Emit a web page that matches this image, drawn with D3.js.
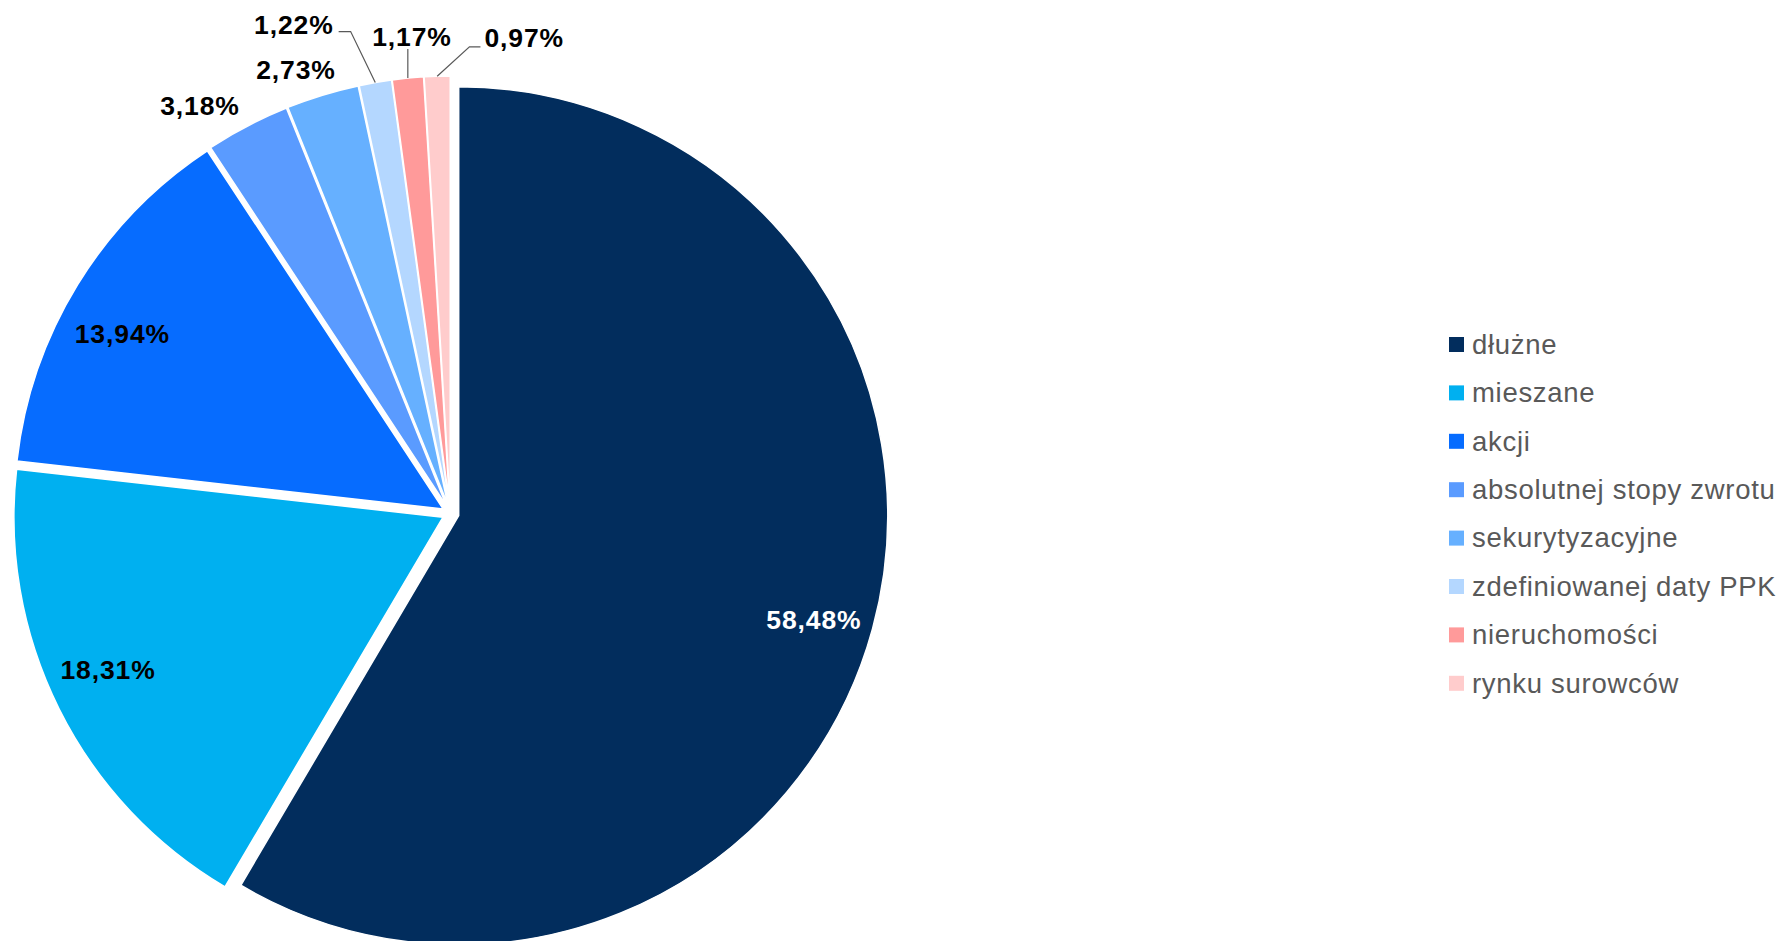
<!DOCTYPE html>
<html>
<head>
<meta charset="utf-8">
<script src="https://cdn.jsdelivr.net/npm/d3@7"></script>
<style>
  html, body { margin: 0; padding: 0; background: #ffffff; }
  svg { display: block; }
</style>
</head>
<body>
<svg id="chart" width="1787" height="941"></svg>
<script>
// Fund categories and their share of assets (%)
const categories = [
  "dłużne",
  "mieszane",
  "akcji",
  "absolutnej stopy zwrotu",
  "sekurytyzacyjne",
  "zdefiniowanej daty PPK",
  "nieruchomości",
  "rynku surowców"
];
const shares = [58.48, 18.31, 13.94, 3.18, 2.73, 1.22, 1.17, 0.97];
const colors = ["#022d5d", "#00b0f0", "#066cff", "#5a9bff", "#66b0ff", "#b4d7ff", "#ff9a9a", "#ffcccc"];

// Layout
const W = 1787, H = 941;
const cx = 450.5, cy = 513.5;   // pie centre
const R = 429;                  // pie radius
const explode = 8.5;            // every slice pulled out along its bisector
const fontFamily = "'Liberation Sans', Arial, Helvetica, sans-serif";

// Per-label placement: radius from slice centre and angular nudge (deg)
const labelLayout = [
  { r: 370, da: 1 },
  { r: 368, da: 2 },
  { r: 366, da: -2.8 },
  { r: 470, da: -4 },
  { r: 462, da: -2.2 },
  { r: 505, da: -8, leader: true },
  { r: 470, da: 1, leader: true },
  { r: 473, da: 10.75, leader: true }
];

const fmt = v => d3.format(".2f")(v).replace(".", ",") + "%";

const svg = d3.select("#chart");

const pie = d3.pie().sort(null).value(d => d).startAngle(0).endAngle(2 * Math.PI);
const arcs = pie(shares);
const arc = d3.arc().innerRadius(0).outerRadius(R);

const mid = a => (a.startAngle + a.endAngle) / 2;
const polar = (r, ang) => [r * Math.sin(ang), -r * Math.cos(ang)];

const g = svg.append("g").attr("transform", `translate(${cx},${cy})`);

// Slices, each offset along its bisector
const slices = g.selectAll("g.slice")
  .data(arcs)
  .join("g")
  .attr("class", "slice")
  .attr("transform", d => {
    const [dx, dy] = polar(explode, mid(d));
    return `translate(${dx},${dy})`;
  });

slices.append("path")
  .attr("d", arc)
  .attr("fill", (d, i) => colors[i])
  .attr("stroke", "#ffffff")
  .attr("stroke-width", 1.5)
  .attr("stroke-linejoin", "round");

// Data labels
const labelFont = 26.5;
const labelInfo = arcs.map((d, i) => {
  const L = labelLayout[i];
  const off = polar(explode, mid(d));
  const ang = mid(d) + L.da * Math.PI / 180;
  const p = polar(L.r, ang);
  return {
    i, d,
    x: off[0] + p[0],
    y: off[1] + p[1],
    edge: [off[0] + polar(R, mid(d))[0], off[1] + polar(R, mid(d))[1]],
    text: fmt(d.data),
    leader: !!L.leader
  };
});

const labels = g.selectAll("text.val")
  .data(labelInfo)
  .join("text")
  .attr("class", "val")
  .attr("x", d => d.x)
  .attr("y", d => d.y)
  .attr("dy", "0.358em")
  .attr("text-anchor", "middle")
  .attr("font-family", fontFamily)
  .attr("font-weight", "bold")
  .attr("font-size", labelFont)
  .attr("letter-spacing", "0.9px")
  .attr("fill", d => d.i === 0 ? "#ffffff" : "#000000")
  .text(d => d.text);

// Leader lines for the thin slices
labels.each(function (d) {
  if (!d.leader) return;
  const bb = this.getBBox();
  const [ex, ey] = d.edge;
  let pts;
  if (Math.abs(d.x - ex) < 12) {
    // label sits right above the slice: straight line to its bottom
    pts = [[ex, ey], [ex, bb.y + bb.height - 3]];
  } else if (d.x < ex) {
    const yy = d.y + 7;
    const x0 = bb.x + bb.width + 5;
    pts = [[ex, ey], [x0 + 12, yy], [x0, yy]];
  } else {
    const yy = d.y + 9;
    const x0 = bb.x - 4;
    pts = [[ex, ey], [x0 - 11, yy], [x0, yy]];
  }
  g.insert("path", "text.val")
    .attr("d", d3.line()(pts))
    .attr("fill", "none")
    .attr("stroke", "#595959")
    .attr("stroke-width", 1.2);
});

// Legend
const legendX = 1449, legendY = 344.5, legendStep = 48.4, sw = 15;
const legend = svg.append("g").attr("class", "legend");
const items = legend.selectAll("g")
  .data(categories)
  .join("g")
  .attr("transform", (d, i) => `translate(${legendX},${legendY + i * legendStep})`);
items.append("rect")
  .attr("x", 0).attr("y", -sw / 2)
  .attr("width", sw).attr("height", sw)
  .attr("fill", (d, i) => colors[i]);
items.append("text")
  .attr("x", 23)
  .attr("y", 0)
  .attr("dy", "0.34em")
  .attr("font-family", fontFamily)
  .attr("font-size", 27.5)
  .attr("letter-spacing", "0.7px")
  .attr("fill", "#595959")
  .text(d => d);
</script>
</body>
</html>
